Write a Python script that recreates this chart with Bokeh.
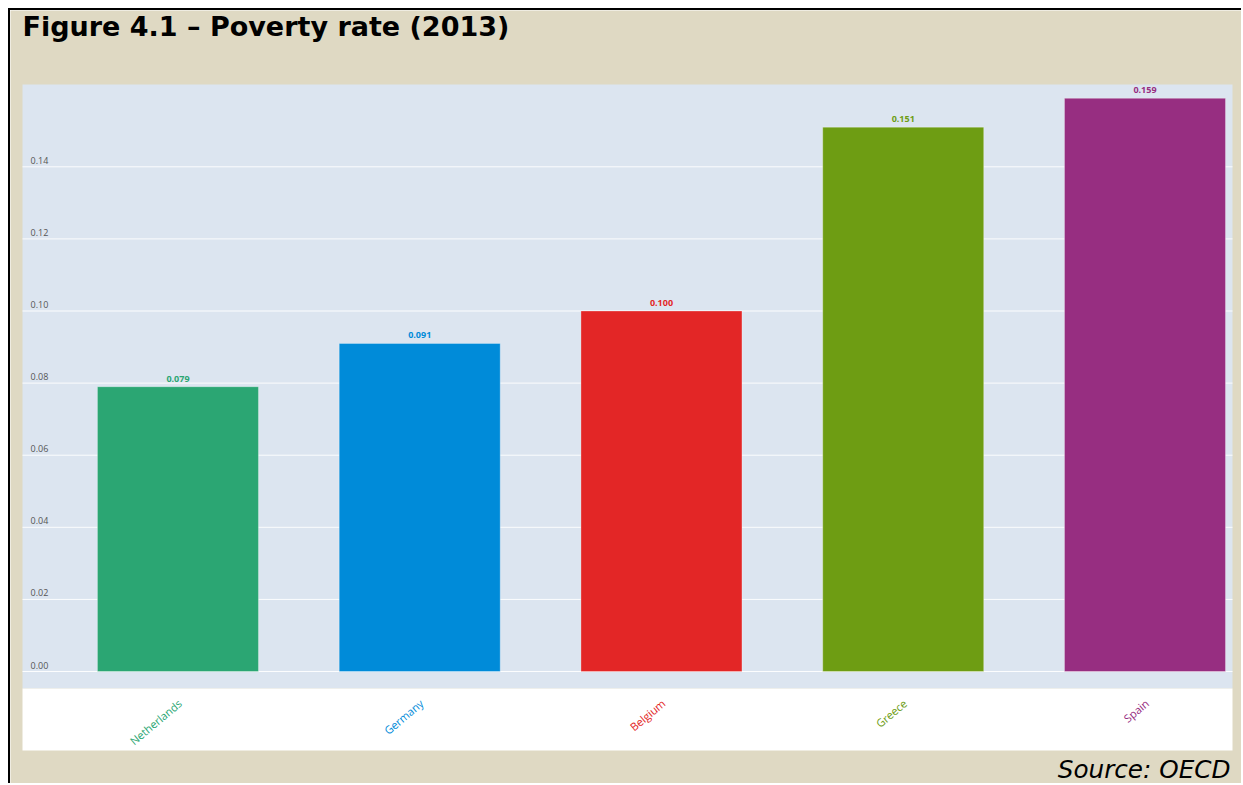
from bokeh.plotting import figure
from bokeh.models import ColumnDataSource, Range1d, LabelSet, Label, BoxAnnotation
from bokeh.core.properties import value, field
from bokeh.embed import file_html
from bokeh.resources import INLINE

# ---- data ----
countries = ["Netherlands", "Germany", "Belgium", "Greece", "Spain"]
poverty_rate = [0.079, 0.091, 0.100, 0.151, 0.159]
bar_colors = ["#2BA673", "#008BD9", "#E32626", "#6E9D13", "#972E81"]
y_ticks = [0.00, 0.02, 0.04, 0.06, 0.08, 0.10, 0.12, 0.14]
y_tick_labels = ["0.00", "0.02", "0.04", "0.06", "0.08", "0.10", "0.12", "0.14"]
title_text = "Figure 4.1 \u2013 Poverty rate (2013)"
source_text = "Source: OECD"

# ---- styling / layout ----
PAGE_BG = "#DFD9C3"
PLOT_BG = "#DCE5F0"
# plot-area extent in data units
X_START, X_END = -0.643, 4.362
Y_START, Y_END = -0.02191, 0.16283
BAND_TOP = -0.00471
# page margins around the plot area (pixels) and pixel scales
W, H = 1233, 775
M_LEFT, M_RIGHT, M_TOP, M_BOTTOM = 12, 11, 74, 35
PX_X = (W - M_LEFT - M_RIGHT) / (X_END - X_START)
PX_Y = (H - M_TOP - M_BOTTOM) / (Y_END - Y_START)

positions = list(range(len(countries)))
src = ColumnDataSource(dict(
    x=positions,
    rate=poverty_rate,
    color=bar_colors,
    name=countries,
    label=[f"{v:.3f}" for v in poverty_rate],
    zero=[0.0] * len(countries),
))
tick_src = ColumnDataSource(dict(
    x0=[X_START] * len(y_ticks),
    x1=[X_END] * len(y_ticks),
    y=y_ticks,
    text=y_tick_labels,
))

p = figure(
    width=W, height=H,
    output_backend="svg", toolbar_location=None,
    x_range=Range1d(X_START - M_LEFT / PX_X, X_END + M_RIGHT / PX_X),
    y_range=Range1d(Y_START - M_BOTTOM / PX_Y, Y_END + M_TOP / PX_Y),
    min_border=0, min_border_left=0, min_border_right=0,
    min_border_top=0, min_border_bottom=0,
    background_fill_color=PAGE_BG, border_fill_color=PAGE_BG,
    outline_line_color=None,
)
p.title.visible = False
p.styles = {"margin-left": "8px", "margin-top": "8px",
            "border-left": "2px solid black", "border-top": "2px solid black"}

p.axis.visible = False
p.grid.visible = False

# plot area background and white label band
p.add_layout(BoxAnnotation(left=X_START, right=X_END, bottom=BAND_TOP, top=Y_END,
                           fill_color=PLOT_BG, fill_alpha=1.0, line_color=None,
                           level="image"))
p.add_layout(BoxAnnotation(left=X_START, right=X_END, bottom=Y_START, top=BAND_TOP,
                           fill_color="white", fill_alpha=1.0, line_color=None,
                           level="image"))

# horizontal grid lines at the y ticks
grid = p.segment(x0="x0", x1="x1", y0="y", y1="y", source=tick_src,
                 line_color="white", line_alpha=0.9, line_width=1)
grid.level = "underlay"

p.vbar(x="x", top="rate", bottom=0, width=0.666, source=src,
       fill_color=field("color"), line_color="white", line_alpha=0.3, line_width=1)

p.add_layout(LabelSet(x="x0", y="y", text="text", source=tick_src,
                      x_offset=8, y_offset=3, text_align="left", text_baseline="alphabetic",
                      text_font=value("Open Sans"), text_font_size=value("9px"),
                      text_color="#555555"))

p.add_layout(LabelSet(x="x", y="rate", text="label", source=src,
                      y_offset=5, text_align="center", text_baseline="alphabetic",
                      text_font=value("Open Sans"), text_font_size=value("9px"),
                      text_font_style="bold", text_color=field("color")))

p.add_layout(LabelSet(x="x", y="zero", text="name", source=src,
                      x_offset=2, y_offset=-30, angle=40, angle_units="deg",
                      text_align="right", text_baseline="middle",
                      text_font=value("Open Sans"), text_font_size=value("11px"),
                      text_color=field("color")))

# title and source note, anchored to the plot-area corners
p.add_layout(Label(x=X_START, y=Y_END, text=title_text, x_offset=0, y_offset=58,
                   text_align="left", text_baseline="alphabetic",
                   text_font="DejaVu Sans", text_font_size="27px",
                   text_font_style="bold", text_color="black"))
p.add_layout(Label(x=X_END, y=Y_START, text=source_text, x_offset=-2, y_offset=-19,
                   text_align="right", text_baseline="alphabetic",
                   text_font="DejaVu Sans", text_font_size="24.7px",
                   text_font_style="italic", text_color="black"))

open("out.html", "w").write(file_html(p, INLINE))
